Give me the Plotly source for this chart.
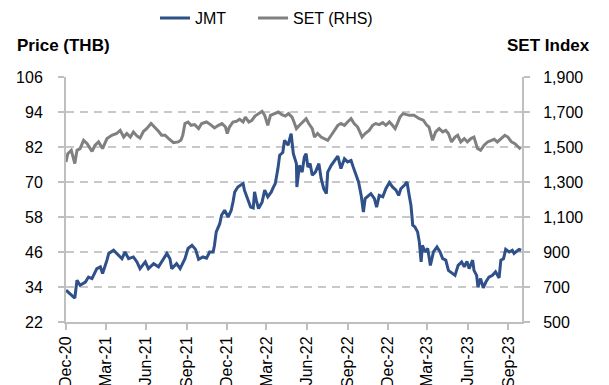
import plotly.graph_objects as go

# ---------------- data ----------------
jmt_dates = [
    "2020-12-01", "2020-12-11", "2020-12-21", "2020-12-26", "2021-01-02", "2021-01-14",
    "2021-01-21", "2021-01-29", "2021-02-09", "2021-02-17", "2021-02-22", "2021-03-04",
    "2021-03-08", "2021-03-19", "2021-03-30", "2021-04-07", "2021-04-14", "2021-04-22",
    "2021-05-03", "2021-05-11", "2021-05-18", "2021-05-30", "2021-06-06", "2021-06-18",
    "2021-06-29", "2021-07-10", "2021-07-18", "2021-07-25", "2021-07-29", "2021-08-09",
    "2021-08-17", "2021-08-28", "2021-09-04", "2021-09-13", "2021-09-21", "2021-09-28",
    "2021-10-08", "2021-10-16", "2021-10-23", "2021-10-31", "2021-11-03", "2021-11-07",
    "2021-11-15", "2021-11-19", "2021-11-26", "2021-12-04", "2021-12-11", "2021-12-15",
    "2021-12-19", "2021-12-26", "2022-01-07", "2022-01-10", "2022-01-17", "2022-01-24",
    "2022-01-30", "2022-02-02", "2022-02-06", "2022-02-11", "2022-02-19", "2022-02-25",
    "2022-03-04", "2022-03-12", "2022-03-16", "2022-03-21", "2022-03-27", "2022-03-31",
    "2022-04-07", "2022-04-11", "2022-04-19", "2022-04-26", "2022-05-01", "2022-05-08",
    "2022-05-09", "2022-05-15", "2022-05-21", "2022-05-26", "2022-05-30", "2022-06-03",
    "2022-06-08", "2022-06-13", "2022-06-20", "2022-06-28", "2022-07-03", "2022-07-09",
    "2022-07-15", "2022-07-18", "2022-07-26", "2022-08-02", "2022-08-10", "2022-08-17",
    "2022-08-25", "2022-09-01", "2022-09-09", "2022-09-14", "2022-09-20", "2022-09-26",
    "2022-10-02", "2022-10-07", "2022-10-11", "2022-10-19", "2022-10-24", "2022-11-01",
    "2022-11-06", "2022-11-12", "2022-11-20", "2022-11-27", "2022-12-05", "2022-12-12",
    "2022-12-20", "2022-12-26", "2022-12-31", "2023-01-08", "2023-01-14", "2023-01-19",
    "2023-01-23", "2023-01-27", "2023-02-01", "2023-02-07", "2023-02-11", "2023-02-15",
    "2023-02-18", "2023-02-24", "2023-03-02", "2023-03-08", "2023-03-15", "2023-03-23",
    "2023-03-30", "2023-04-05", "2023-04-12", "2023-04-18", "2023-04-27", "2023-05-03",
    "2023-05-10", "2023-05-18", "2023-05-24", "2023-05-30", "2023-06-04", "2023-06-12",
    "2023-06-15", "2023-06-21", "2023-06-24", "2023-06-30", "2023-07-06", "2023-07-12",
    "2023-07-19", "2023-07-27", "2023-08-03", "2023-08-11", "2023-08-15", "2023-08-21",
    "2023-08-26", "2023-09-03", "2023-09-10", "2023-09-14", "2023-09-25", "2023-09-30",
]
jmt_price = [
    32.9, 31.7, 30.2, 36.3, 34.6, 35.7,
    37.4, 36.9, 40.3, 40.9, 38.6, 43.2,
    45.5, 46.6, 45.1, 43.7, 46.0, 43.7,
    44.3, 42.6, 40.3, 42.6, 40.3, 42.0,
    40.9, 43.7, 45.5, 43.7, 40.3, 42.0,
    40.3, 43.7, 47.2, 48.3, 46.9, 43.5,
    44.3, 43.9, 46.0, 46.0, 48.3, 52.9,
    55.7, 58.6, 60.3, 58.0, 60.3, 63.1,
    66.6, 68.3, 69.5, 67.2, 64.3, 61.4,
    61.1, 66.6, 63.7, 60.9, 63.1, 67.2,
    64.9, 66.6, 68.0, 69.5, 74.6, 79.2,
    80.1, 84.3, 82.6, 86.6, 79.7, 76.3,
    68.3, 75.7, 73.4, 78.6, 79.7, 75.1,
    76.3, 72.3, 73.4, 76.3, 71.2, 67.7,
    66.0, 73.4, 75.7, 77.4, 78.9, 74.6,
    78.0, 76.9, 77.4, 75.1, 72.3, 70.0,
    65.4, 59.7, 64.3, 65.4, 66.0, 64.3,
    61.4, 65.4, 64.9, 67.7, 69.8, 68.3,
    67.2, 65.4, 67.7, 68.9, 70.0, 65.4,
    62.0, 55.2, 54.6, 52.9, 49.4, 42.6,
    48.3, 46.0, 47.2, 41.4, 46.0, 47.7,
    46.0, 43.7, 43.2, 39.7, 38.6, 38.0,
    41.4, 42.6, 40.9, 42.8, 40.3, 43.2,
    39.7, 38.0, 34.0, 36.9, 33.7, 35.7,
    37.4, 38.0, 39.2, 37.1, 43.2, 43.7,
    46.9, 46.0, 46.6, 45.5, 46.9, 46.6,
]

set_dates = [
    "2020-12-01", "2020-12-05", "2020-12-13", "2020-12-21", "2020-12-26", "2021-01-02",
    "2021-01-10", "2021-01-18", "2021-01-29", "2021-02-05", "2021-02-13", "2021-02-22",
    "2021-03-04", "2021-03-15", "2021-03-26", "2021-04-03", "2021-04-11", "2021-04-18",
    "2021-04-26", "2021-05-03", "2021-05-11", "2021-05-18", "2021-05-26", "2021-06-02",
    "2021-06-12", "2021-06-20", "2021-06-29", "2021-07-06", "2021-07-14", "2021-07-22",
    "2021-08-02", "2021-08-13", "2021-08-19", "2021-08-23", "2021-08-28", "2021-09-04",
    "2021-09-11", "2021-09-19", "2021-09-28", "2021-10-05", "2021-10-16", "2021-10-25",
    "2021-11-03", "2021-11-12", "2021-11-20", "2021-11-28", "2021-12-02", "2021-12-07",
    "2021-12-15", "2021-12-23", "2021-12-30", "2022-01-07", "2022-01-12", "2022-01-20",
    "2022-01-27", "2022-02-03", "2022-02-11", "2022-02-19", "2022-02-25", "2022-03-04",
    "2022-03-10", "2022-03-19", "2022-03-28", "2022-04-05", "2022-04-13", "2022-04-20",
    "2022-04-28", "2022-05-01", "2022-05-08", "2022-05-15", "2022-05-22", "2022-05-30",
    "2022-06-05", "2022-06-13", "2022-06-18", "2022-06-25", "2022-07-03", "2022-07-10",
    "2022-07-18", "2022-07-26", "2022-08-02", "2022-08-10", "2022-08-17", "2022-08-25",
    "2022-09-01", "2022-09-09", "2022-09-16", "2022-09-24", "2022-09-29", "2022-10-04",
    "2022-10-11", "2022-10-20", "2022-10-28", "2022-11-04", "2022-11-12", "2022-11-20",
    "2022-11-27", "2022-12-05", "2022-12-12", "2022-12-18", "2022-12-23", "2022-12-29",
    "2023-01-05", "2023-01-15", "2023-01-19", "2023-01-30", "2023-02-11", "2023-02-20",
    "2023-02-28", "2023-03-05", "2023-03-13", "2023-03-20", "2023-03-28", "2023-04-05",
    "2023-04-12", "2023-04-18", "2023-04-25", "2023-05-03", "2023-05-09", "2023-05-16",
    "2023-05-24", "2023-05-31", "2023-06-08", "2023-06-15", "2023-06-23", "2023-06-30",
    "2023-07-08", "2023-07-16", "2023-07-23", "2023-07-31", "2023-08-07", "2023-08-16",
    "2023-08-24", "2023-08-31", "2023-09-08", "2023-09-16", "2023-09-23", "2023-09-29",
]
set_index = [
    1414, 1462, 1481, 1405, 1481, 1491,
    1538, 1519, 1475, 1510, 1529, 1491,
    1548, 1567, 1577, 1595, 1557, 1577,
    1557, 1586, 1563, 1551, 1590, 1605,
    1634, 1614, 1590, 1567, 1567, 1548,
    1525, 1529, 1540, 1567, 1634, 1643,
    1624, 1628, 1605, 1634, 1643, 1628,
    1609, 1624, 1634, 1614, 1577, 1614,
    1643, 1647, 1658, 1643, 1671, 1643,
    1653, 1677, 1691, 1704, 1681, 1624,
    1681, 1691, 1700, 1685, 1677, 1691,
    1671, 1653, 1605, 1624, 1643, 1662,
    1634, 1605, 1557, 1577, 1557, 1548,
    1538, 1567, 1595, 1624, 1634, 1624,
    1643, 1662, 1634, 1614, 1586, 1557,
    1577, 1595, 1624, 1634, 1628, 1639,
    1624, 1643, 1624, 1605, 1634, 1671,
    1691, 1685, 1681, 1681, 1662, 1653,
    1624, 1614, 1538, 1586, 1605, 1586,
    1595, 1577, 1529, 1557, 1567, 1529,
    1548, 1529, 1548, 1557, 1491, 1481,
    1510, 1529, 1538, 1544, 1529, 1548,
    1567, 1557, 1529, 1519, 1500, 1487,
]

x_tick_dates = ["2020-12-01", "2021-03-01", "2021-06-01", "2021-09-01", "2021-12-01",
                "2022-03-01", "2022-06-01", "2022-09-01", "2022-12-01", "2023-03-01",
                "2023-06-01", "2023-09-01"]
x_tick_labels = ["Dec-20", "Mar-21", "Jun-21", "Sep-21", "Dec-21", "Mar-22",
                 "Jun-22", "Sep-22", "Dec-22", "Mar-23", "Jun-23", "Sep-23"]
left_ticks = [22, 34, 46, 58, 70, 82, 94, 106]
right_ticks = [500, 700, 900, 1100, 1300, 1500, 1700, 1900]

# ---------------- styling ----------------
FONT = "Liberation Sans, Arial, sans-serif"
BLUE = "#2F5089"
GREY = "#808080"
AXIS = "#BFBFBF"
GRID = "#C8C8C8"

fig = go.Figure()
fig.add_trace(go.Scatter(x=jmt_dates, y=jmt_price, name="JMT", mode="lines",
                         line=dict(color=BLUE, width=3), yaxis="y", legend="legend"))
fig.add_trace(go.Scatter(x=set_dates, y=set_index, name="SET (RHS)", mode="lines",
                         line=dict(color=GREY, width=3), yaxis="y2", legend="legend2"))

legend_common = dict(orientation="h", xref="container", yref="container",
                     xanchor="left", yanchor="middle", font=dict(size=16),
                     bgcolor="rgba(0,0,0,0)", itemwidth=30)

fig.update_layout(
    width=609, height=385,
    margin=dict(l=66, r=87, t=77, b=63, autoexpand=False),
    paper_bgcolor="white", plot_bgcolor="white",
    font=dict(family=FONT, size=16, color="#000000"),
    showlegend=True,
    legend=dict(x=0.2545, y=0.953, **legend_common),
    legend2=dict(x=0.4154, y=0.953, **legend_common),
    xaxis=dict(type="date", range=["2020-12-01", "2023-10-02"], automargin=False,
               tickmode="array", tickvals=x_tick_dates, ticktext=x_tick_labels,
               tickangle=-90, ticks="outside", ticklen=6, tickcolor=AXIS, tickwidth=1.5,
               showline=True, linecolor=AXIS, linewidth=2, showgrid=False,
               zeroline=False, tickfont=dict(size=16)),
    yaxis=dict(range=[22, 106], tickmode="array", tickvals=left_ticks, automargin=False,
               ticks="outside", ticklen=6, tickcolor=AXIS, tickwidth=1.5,
               showline=True, linecolor=AXIS, linewidth=2,
               showgrid=True, gridcolor=GRID, gridwidth=2, griddash="8px,6px",
               zeroline=False, ticklabelstandoff=12, tickfont=dict(size=16)),
    yaxis2=dict(range=[500, 1900], tickmode="array", tickvals=right_ticks,
                tickformat=",", overlaying="y", side="right", automargin=False,
                ticks="outside", ticklen=6, tickcolor=AXIS, tickwidth=1.5,
                showline=True, linecolor=AXIS, linewidth=2, showgrid=False,
                zeroline=False, ticklabelstandoff=10, tickfont=dict(size=16)),
    annotations=[
        dict(text="<b>Price (THB)</b>", xref="paper", yref="paper",
             x=-0.112, y=1.127, xanchor="left", yanchor="middle",
             showarrow=False, font=dict(size=17)),
        dict(text="<b>SET Index</b>", xref="paper", yref="paper",
             x=1.1535, y=1.127, xanchor="right", yanchor="middle",
             showarrow=False, font=dict(size=17)),
    ],
)

fig.write_html("out.html")
